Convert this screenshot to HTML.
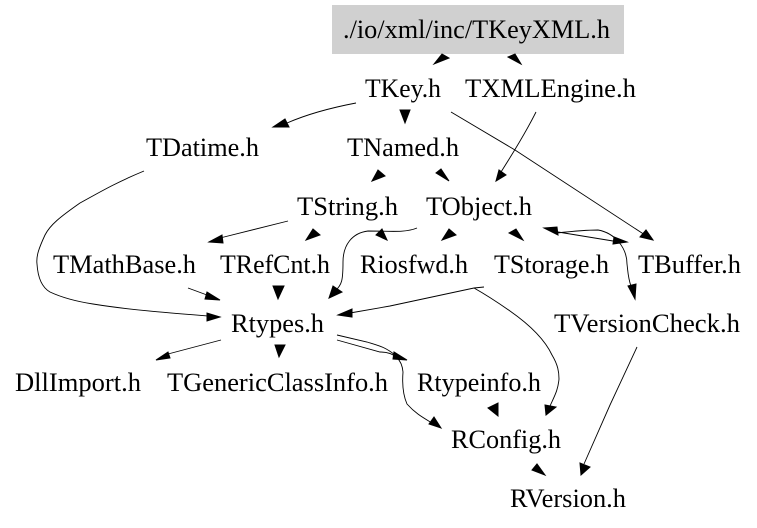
<!DOCTYPE html>
<html><head><meta charset="utf-8"><style>
html,body{margin:0;padding:0;background:#fff}
svg{display:block}
text{font-family:"Liberation Serif",serif;font-size:26px;fill:#000}
path{fill:none;stroke:#000;stroke-width:.9}
polygon{fill:#000;stroke:#000;stroke-width:1}
</style></head><body>
<svg width="757" height="528" viewBox="0 0 757 528" xmlns="http://www.w3.org/2000/svg">
<rect x="332" y="5" width="292" height="49" fill="#d0d0d0"/>
<text x="343" y="38" textLength="267" lengthAdjust="spacingAndGlyphs">./io/xml/inc/TKeyXML.h</text>
<text x="365" y="97" textLength="76" lengthAdjust="spacingAndGlyphs">TKey.h</text>
<text x="465" y="97" textLength="171" lengthAdjust="spacingAndGlyphs">TXMLEngine.h</text>
<text x="146" y="156" textLength="113" lengthAdjust="spacingAndGlyphs">TDatime.h</text>
<text x="347" y="156" textLength="112" lengthAdjust="spacingAndGlyphs">TNamed.h</text>
<text x="297" y="215" textLength="101" lengthAdjust="spacingAndGlyphs">TString.h</text>
<text x="426" y="215" textLength="106" lengthAdjust="spacingAndGlyphs">TObject.h</text>
<text x="53" y="273" textLength="143" lengthAdjust="spacingAndGlyphs">TMathBase.h</text>
<text x="220" y="273" textLength="110" lengthAdjust="spacingAndGlyphs">TRefCnt.h</text>
<text x="360" y="273" textLength="108" lengthAdjust="spacingAndGlyphs">Riosfwd.h</text>
<text x="494" y="273" textLength="115" lengthAdjust="spacingAndGlyphs">TStorage.h</text>
<text x="638" y="273" textLength="103" lengthAdjust="spacingAndGlyphs">TBuffer.h</text>
<text x="231" y="332" textLength="93" lengthAdjust="spacingAndGlyphs">Rtypes.h</text>
<text x="554" y="332" textLength="186" lengthAdjust="spacingAndGlyphs">TVersionCheck.h</text>
<text x="15" y="391" textLength="126" lengthAdjust="spacingAndGlyphs">DllImport.h</text>
<text x="167" y="391" textLength="221" lengthAdjust="spacingAndGlyphs">TGenericClassInfo.h</text>
<text x="417" y="391" textLength="124" lengthAdjust="spacingAndGlyphs">Rtypeinfo.h</text>
<text x="451" y="448" textLength="110" lengthAdjust="spacingAndGlyphs">RConfig.h</text>
<text x="510" y="507" textLength="116" lengthAdjust="spacingAndGlyphs">RVersion.h</text>

<path d="M356 103C335 107 310 113 287 123"/>
<polygon points="273,127 285,119 289,127"/>
<polygon points="434,64 442,54 449,58"/>
<polygon points="521,64 508,57 515,54"/>
<polygon points="405,123 400,110 410,110"/>
<path d="M451 112L515 150L645 235"/>
<polygon points="653,240 640,237 646,230"/>
<path d="M536 112C527 130 515 150 501 172"/>
<polygon points="496,181 499,170 506,175"/>
<polygon points="372,181 378,170 385,176"/>
<polygon points="449,181 436,173 441,169"/>
<path d="M288 221L220 238"/>
<polygon points="209,242 222,235 223,243"/>
<polygon points="306,240 313,229 320,235"/>
<path d="M417 228C405 233 390 231 368 231C352 233 343 245 343 262C343 280 342 285 335 291"/>
<polygon points="329,298 333,286 342,292"/>
<polygon points="387,240 376,235 382,229"/>
<polygon points="442,240 449,229 456,235"/>
<polygon points="523,240 509,233 516,229"/>
<path d="M558 232L613 241"/>
<polygon points="544,228 557,227 558,235"/>
<polygon points="627,242 614,237 613,244"/>
<path d="M557 233C575 231 590 230 598 230C615 233 627 248 627 264C628 272 628 278 631 286"/>
<polygon points="635,299 628,286 636,284"/>
<path d="M144 171C115 183 100 192 80 203C60 217 50 225 45 235C39 248 36 256 37 264C38 280 43 288 50 292C65 299 80 302 93 304C130 310 170 313 208 316"/>
<polygon points="220,317 207,313 207,321"/>
<path d="M188 288L207 295"/>
<polygon points="220,300 207,292 205,299"/>
<polygon points="278,299 273,286 284,286"/>
<path d="M484 287L474 288L390 306L350 313"/>
<polygon points="338,315 352,309 352,317"/>
<path d="M474 288C490 297 500 304 510 311C530 325 545 340 552 355C558 365 559 372 559 379C558 390 555 395 550 406"/>
<polygon points="546,415 545,405 556,407"/>
<path d="M221 340L168 354"/>
<polygon points="156,360 168,352 170,358"/>
<polygon points="279,357 275,345 285,345"/>
<path d="M337 335L367 342C380 346 385 347 395 355"/>
<polygon points="407,360 394,352 393,359"/>
<path d="M337 340L380 352C395 352 402 360 403 372C402 385 403 395 407 404C415 413 422 417 432 423"/>
<polygon points="441,428 434,417 429,424"/>
<polygon points="488,408 498,403 498,416"/>
<path d="M637 347L610 405L584 464"/>
<polygon points="581,475 580,463 590,467"/>
<polygon points="545,475 537,464 532,470"/>
</svg>
</body></html>
